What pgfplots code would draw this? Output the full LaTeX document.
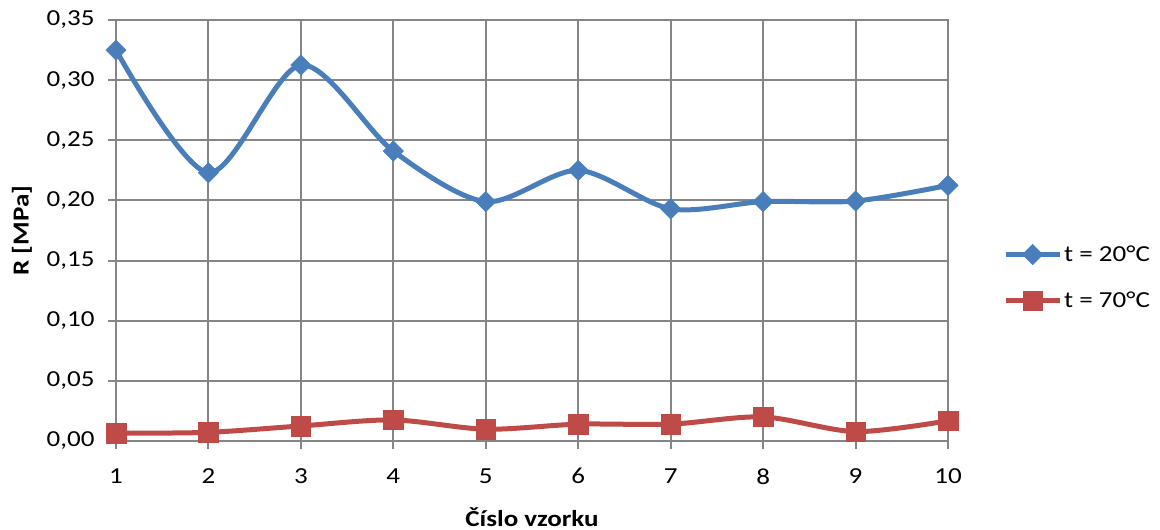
\documentclass[border=0pt]{standalone}
\usepackage{pgfplots}
\pgfplotsset{compat=1.18}
\usepackage{fontspec}
\setmainfont{Carlito}[FakeStretch=1.18]

\definecolor{serA}{HTML}{4A7EBB}
\definecolor{serB}{HTML}{BE4B48}
\definecolor{gridc}{HTML}{868686}

\newcommand{\chartfont}{\fontsize{23}{27}\selectfont}

\begin{document}
\begin{tikzpicture}[x=1bp,y=1bp]
\path (0,0) rectangle (1160,530);
\begin{axis}[
  at={(116bp,89bp)}, anchor=south west,
  scale only axis, width=832bp, height=421bp,
  xmin=1, xmax=10, ymin=0, ymax=0.35,
  xtick={1,...,10},
  ytick={0,0.05,...,0.351},
  grid=major,
  grid style={gridc, line width=1.9bp},
  axis line style={gridc, line width=1.9bp},
  tick style={gridc, line width=1.9bp},
  tick align=outside, major tick length=8bp,
  xtick pos=bottom, ytick pos=left,
  /pgf/number format/assume math mode=true,
  scaled y ticks=false,
  every tick label/.append style={font=\chartfont},
  yticklabel style={xshift=-10bp, /pgf/number format/.cd, fixed, fixed zerofill, precision=2, use comma},
  xticklabel style={yshift=-16bp},
  xlabel={\textbf{Číslo vzorku}},
  ylabel={\textbf{R [MPa]}},
  every axis x label/.style={at={(axis description cs:0.5,-0.18)}, anchor=center, font=\chartfont},
  every axis y label/.style={at={(axis description cs:-0.113,0.5)}, rotate=90, anchor=center, font=\chartfont},
  legend style={draw=none, fill=none, at={(1.0625,0.388)}, anchor=west,
    font=\chartfont, row sep=25bp,
    /tikz/every even column/.append style={column sep=0bp},
    cells={anchor=west}},
  legend image code/.code={
    \draw[mark repeat=2, mark phase=2, #1] plot coordinates {(0bp,0bp) (27bp,0bp) (54bp,0bp)};
  },
]
\addplot[serA, line width=5bp, smooth, mark=square*, mark size=7.2bp,
  mark options={rotate=45, solid, fill=serA, draw=serA, line width=0.5bp}]
  coordinates {(1,0.325) (2,0.223) (3,0.3125) (4,0.241) (5,0.199) (6,0.225)
               (7,0.193) (8,0.199) (9,0.1995) (10,0.2125)};
\addlegendentry{t = 20°C}
\addplot[serB, line width=5bp, smooth, mark=square*, mark size=9.8bp,
  mark options={solid, fill=serB, draw=serB, line width=0.5bp}]
  coordinates {(1,0.0065) (2,0.0072) (3,0.0125) (4,0.0175) (5,0.0098) (6,0.014)
               (7,0.014) (8,0.020) (9,0.0078) (10,0.0168)};
\addlegendentry{t = 70°C}
\end{axis}
\end{tikzpicture}
\end{document}
